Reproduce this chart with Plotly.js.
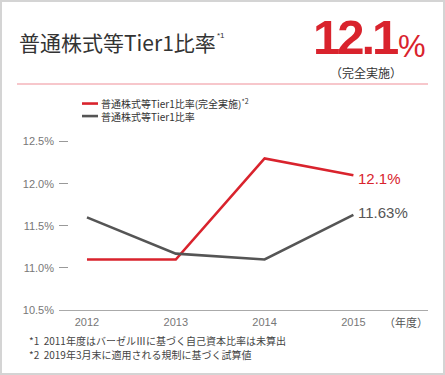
<!DOCTYPE html>
<html><head><meta charset="utf-8">
<script src="https://cdn.plot.ly/plotly-3.0.1.min.js"></script>
<style>
html,body{margin:0;padding:0;background:#fff;}
#wrap{position:relative;width:445px;height:375px;}
#chart{position:absolute;left:0;top:0;width:445px;height:375px;}
#frame{position:absolute;left:0;top:0;width:445px;height:375px;box-sizing:border-box;border:2px solid #d4d4d4;pointer-events:none;}
</style></head>
<body><div id="wrap"><div id="chart"></div><div id="frame"></div></div>
<script>
// ---- data ----
const years = ['2012', '2013', '2014', '2015'];
const fullImplementation = [11.1, 11.1, 12.3, 12.1];
const currentRatio = [11.6, 11.17, 11.1, 11.63];
const yTickValues = [10.5, 11.0, 11.5, 12.0, 12.5];
const yTickLabels = ['10.5%', '11.0%', '11.5%', '12.0%', '12.5%'];
const seriesNames = ['普通株式等Tier1比率(完全実施)<sup>*2</sup>', '普通株式等Tier1比率'];
const headline = '12.1';
const footnotes = ['*1  2011年度はバーゼルⅢに基づく自己資本比率は未算出', '*2  2019年3月末に適用される規制に基づく試算値'];

// ---- layout helpers (pixel -> paper) ----
const W = 445, H = 375;
const L = 59, R = 428, T = 129.4, B = 310;
const px = x => (x - L) / (R - L);
const py = y => (B - y) / (B - T);

const RED = '#d9232d', GRAY = '#555555';
const CJK = '"Noto Sans CJK JP", "Noto Sans", sans-serif';
const NUM = '"Liberation Sans", Arial, sans-serif';

const traces = [
  {x: years, y: fullImplementation, type: 'scatter', mode: 'lines', name: seriesNames[0],
   line: {color: RED, width: 2.6}, hoverinfo: 'none'},
  {x: years, y: currentRatio, type: 'scatter', mode: 'lines', name: seriesNames[1],
   line: {color: GRAY, width: 2.6}, hoverinfo: 'none'}
];

const last = years.length - 1;
const fmt = v => String(v) + '%';

const annotations = [
  // title
  {xref: 'paper', yref: 'paper', x: px(17), y: py(43), xanchor: 'left', yanchor: 'middle', showarrow: false,
   text: '普通株式等Tier1比率', font: {family: CJK, size: 21, color: '#333'}},
  {xref: 'paper', yref: 'paper', x: px(215), y: py(36), xanchor: 'left', yanchor: 'middle', showarrow: false,
   text: '*1', font: {family: NUM, size: 8, color: '#333'}},
  // headline number
  {xref: 'paper', yref: 'paper', x: px(404), y: py(67), xanchor: 'right', yanchor: 'bottom', showarrow: false,
   text: '<b>' + headline + '</b>', font: {family: NUM, size: 49, color: RED}},
  {xref: 'paper', yref: 'paper', x: px(396), y: py(67), xanchor: 'left', yanchor: 'bottom', showarrow: false,
   text: '%', font: {family: NUM, size: 31, color: RED}},
  {xref: 'paper', yref: 'paper', x: px(366), y: py(73), xanchor: 'center', yanchor: 'middle', showarrow: false,
   text: '（完全実施）', font: {family: CJK, size: 12, color: '#333'}},
  // legend labels
  {xref: 'paper', yref: 'paper', x: px(99), y: py(104), xanchor: 'left', yanchor: 'middle', showarrow: false,
   text: seriesNames[0], font: {family: CJK, size: 10, color: '#333'}},
  {xref: 'paper', yref: 'paper', x: px(99), y: py(116.5), xanchor: 'left', yanchor: 'middle', showarrow: false,
   text: seriesNames[1], font: {family: CJK, size: 10, color: '#333'}},
  // end labels (x given as category index)
  {x: last, y: fullImplementation[last], xref: 'x', yref: 'y', xanchor: 'left', yanchor: 'middle',
   xshift: 3, yshift: -3, showarrow: false, text: fmt(fullImplementation[last]),
   font: {family: NUM, size: 15, color: RED}},
  {x: last, y: currentRatio[last], xref: 'x', yref: 'y', xanchor: 'left', yanchor: 'middle',
   xshift: 3, yshift: 2, showarrow: false, text: fmt(currentRatio[last]),
   font: {family: NUM, size: 15, color: '#555'}},
  // x unit
  {xref: 'paper', yref: 'paper', x: px(406), y: py(322), xanchor: 'center', yanchor: 'middle', showarrow: false,
   text: '（年度）', font: {family: CJK, size: 11, color: '#555'}},
  // footnotes
  {xref: 'paper', yref: 'paper', x: px(27), y: py(340), xanchor: 'left', yanchor: 'middle', showarrow: false,
   text: footnotes[0], font: {family: CJK, size: 10, color: '#444'}},
  {xref: 'paper', yref: 'paper', x: px(27), y: py(354), xanchor: 'left', yanchor: 'middle', showarrow: false,
   text: footnotes[1], font: {family: CJK, size: 10, color: '#444'}}
];

const shapes = [
  {type: 'line', xref: 'paper', yref: 'paper', x0: px(17), x1: px(428), y0: py(84.5), y1: py(84.5),
   line: {color: '#ef8f98', width: 1}},
  {type: 'line', xref: 'paper', yref: 'paper', x0: px(82), x1: px(98), y0: py(104), y1: py(104),
   line: {color: RED, width: 2.6}},
  {type: 'line', xref: 'paper', yref: 'paper', x0: px(82), x1: px(98), y0: py(116.5), y1: py(116.5),
   line: {color: GRAY, width: 2.6}}
];

const layout = {
  width: W, height: H,
  margin: {l: L, r: W - R, t: T, b: H - B, pad: 0},
  paper_bgcolor: '#fff', plot_bgcolor: '#fff',
  showlegend: false,
  font: {family: NUM, color: '#777'},
  xaxis: {type: 'category', range: [-0.315, 3.84], showgrid: false, zeroline: false,
          showline: true, linecolor: '#aaa', linewidth: 1, ticks: '', ticklabelstandoff: 2,
          tickfont: {family: NUM, size: 11, color: '#777'}, fixedrange: true},
  yaxis: {range: [10.5, 12.65], tickvals: yTickValues, ticktext: yTickLabels,
          showgrid: false, zeroline: false, showline: false,
          ticks: 'inside', ticklen: 9, tickcolor: '#999', tickwidth: 1, ticklabelstandoff: 4,
          tickfont: {family: NUM, size: 11, color: '#777'}, fixedrange: true},
  annotations: annotations,
  shapes: shapes
};

Plotly.newPlot('chart', traces, layout, {staticPlot: true, displayModeBar: false}).then(gd => {
  // tighten the headline digits like the reference's condensed heavy face
  gd.querySelectorAll('.annotation-text').forEach(t => {
    if (t.textContent === headline) {
      t.style.letterSpacing = '-3px';
    }
  });
});
</script></body></html>
